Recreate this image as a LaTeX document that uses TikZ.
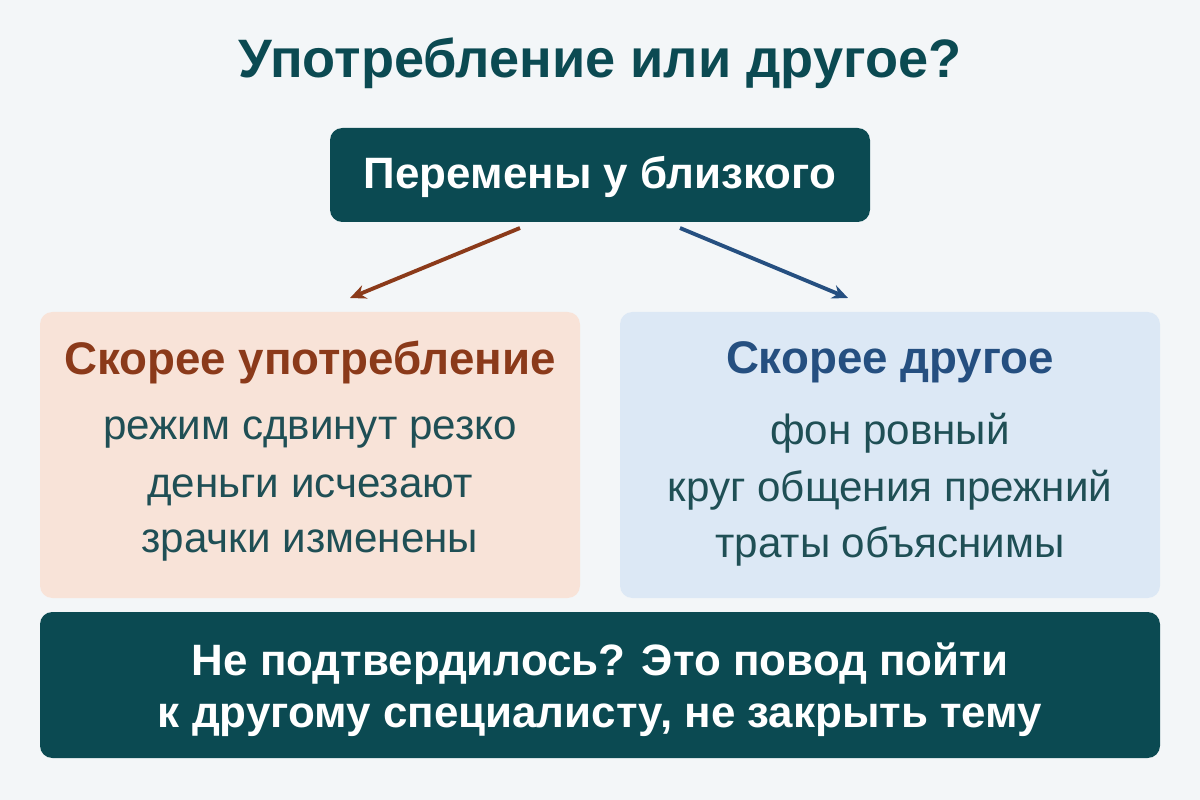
\documentclass[tikz,border=0pt]{standalone}
\usepackage{fontspec}
\setmainfont{Liberation Sans}
\usetikzlibrary{arrows.meta}
\definecolor{bg}{HTML}{F3F6F8}
\definecolor{teal}{HTML}{0B4A52}
\definecolor{lbox}{HTML}{F8E3D8}
\definecolor{rbox}{HTML}{DCE8F5}
\definecolor{brn}{HTML}{8B3A1A}
\definecolor{blu}{HTML}{254F80}
\definecolor{txt}{HTML}{1F4F55}
\begin{document}
\begin{tikzpicture}[x=0.02cm,y=-0.02cm,
 box/.style={draw=none,rounded corners=7pt},
 head/.style={font=\fontsize{26}{30}\selectfont\bfseries},
 item/.style={font=\fontsize{24}{28}\selectfont,text=txt},
 bot/.style={font=\fontsize{25}{30}\selectfont\bfseries,text=white},
 arr/.style={line width=2.2pt,-{Stealth[length=9pt,width=8pt]}}]
\fill[bg] (0,0) rectangle (1200,800);
\node[font=\fontsize{30.8}{36}\selectfont\bfseries,text=teal] (title) at (600,63) {Употребление или другое?};
\fill[box,teal] (330,128) rectangle (870,222);
\node[font=\fontsize{25}{30}\selectfont\bfseries,text=white] (top) at (600,177) {Перемены у близкого};
\coordinate (tl) at (520,228); \coordinate (tr) at (680,228);
\coordinate (el) at (350,298); \coordinate (er) at (848,298);
\draw[arr,brn] (tl) -- (el);
\draw[arr,blu] (tr) -- (er);
\fill[box,lbox] (40,312) rectangle (580,598);
\fill[box,rbox] (620,312) rectangle (1160,598);
\node[head,text=brn] (lh) at (310,362) {Скорее употребление};
\node[item] (l1) at (310,433) {режим сдвинут резко};
\node[item] (l2) at (310,490) {деньги исчезают};
\node[item] (l3) at (310,546) {зрачки изменены};
\node[head,text=blu] (rh) at (890,362) {Скорее другое};
\node[item] (r1) at (890,433) {фон ровный};
\node[item] (r2) at (890,490) {круг общения прежний};
\node[item] (r3) at (890,546) {траты объяснимы};
\fill[box,teal] (40,612) rectangle (1160,758);
\node[bot] (b1) at (600,664) {Не подтвердилось? Это повод пойти};
\node[bot] (b2) at (600,720) {к другому специалисту, не закрыть тему};
\end{tikzpicture}
\end{document}
